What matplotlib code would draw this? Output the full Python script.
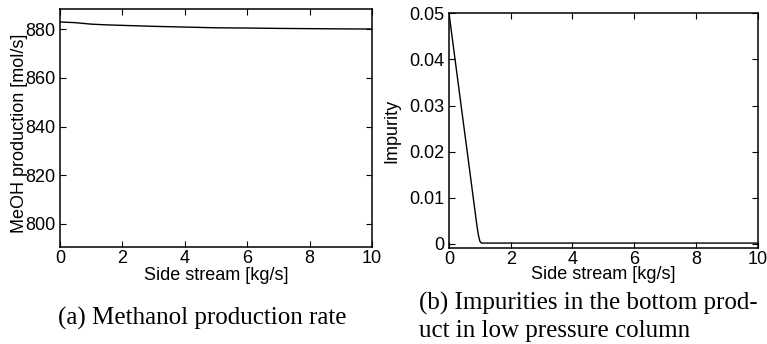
import matplotlib
matplotlib.use("Agg")
import matplotlib.pyplot as plt

plt.rcParams['font.family'] = ['Liberation Sans', 'DejaVu Sans']

# Data (a): methanol production vs side stream
side_a = [0, 0.5, 1.0, 1.5, 2, 3, 4, 5, 6, 7, 8, 9, 10]
meoh = [883.0, 882.7, 882.1, 881.8, 881.6, 881.2, 880.9, 880.6, 880.5, 880.35, 880.25, 880.15, 880.1]

# Data (b): impurity in bottom product
side_b = [0, 0.2, 0.4, 0.6, 0.8, 0.9, 0.95, 1.0, 1.05, 2, 4, 6, 8, 10]
impurity = [0.050, 0.0398, 0.0296, 0.0195, 0.0093, 0.0042, 0.0020, 0.0006,
            0.0002, 0.0002, 0.0002, 0.0002, 0.0002, 0.0002]

xticks = [0, 2, 4, 6, 8, 10]
yticks_a = [800, 820, 840, 860, 880]
yticks_b = [0, 0.01, 0.02, 0.03, 0.04, 0.05]
ytick_labels_b = ['0', '0.01', '0.02', '0.03', '0.04', '0.05']

fig = plt.figure(figsize=(7.67, 3.44), dpi=100)
W, H = 767, 344

def add_ax(x0, x1, ytop, ybot):
    return fig.add_axes([x0 / W, 1 - ybot / H, (x1 - x0) / W, (ybot - ytop) / H])

ax1 = add_ax(60, 372, 9.3, 247.3)
ax2 = add_ax(449, 757.7, 13.3, 248)

for ax in (ax1, ax2):
    ax.tick_params(direction='in', top=True, right=True, length=4.5, width=0.8,
                   labelsize=13, pad=3)
    ax.tick_params(axis='x', pad=2)
    for s in ax.spines.values():
        s.set_linewidth(1.1)
    ax.set_xlim(0, 10)
    ax.set_xticks(xticks)
    ax.set_xticklabels([str(t) for t in xticks])

ax1.plot(side_a, meoh, color='black', lw=1.0)
ax1.set_ylim(790.4, 888.2)
ax1.set_yticks(yticks_a)
ax1.set_yticklabels([str(t) for t in yticks_a])
ax1.set_xlabel('Side stream [kg/s]', fontsize=13, va='center')
ax1.xaxis.set_label_coords(0.5, -0.118)
ax1.set_ylabel('MeOH production [mol/s]', fontsize=13, va='center')
ax1.yaxis.set_label_coords(-0.13, 0.48)

ax2.plot(side_b, impurity, color='black', lw=1.0)
ax2.set_ylim(-0.00087, 0.05)
ax2.set_yticks(yticks_b)
ax2.set_yticklabels(ytick_labels_b)
ax2.set_xlabel('Side stream [kg/s]', fontsize=13, va='center')
ax2.xaxis.set_label_coords(0.5, -0.115)
ax2.set_ylabel('Impurity', fontsize=13, va='center')
ax2.yaxis.set_label_coords(-0.185, 0.5)

serif = ['Liberation Serif', 'DejaVu Serif']
fig.text(58 / W, 1 - 325 / H, '(a) Methanol production rate', family=serif,
         fontsize=18, ha='left', va='baseline')
fig.text(419 / W, 1 - 310 / H, '(b) Impurities in the bottom prod-', family=serif,
         fontsize=18, ha='left', va='baseline')
fig.text(419 / W, 1 - 337 / H, 'uct in low pressure column', family=serif,
         fontsize=18, ha='left', va='baseline')

fig.savefig('out.png', dpi=100)
